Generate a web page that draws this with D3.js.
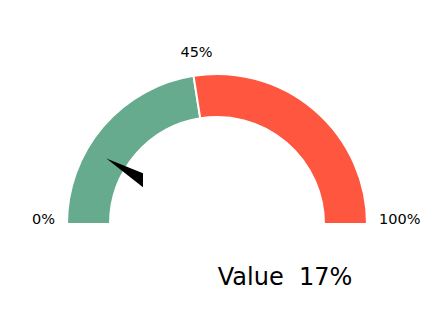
<!DOCTYPE html>
<html lang="en">
<head>
    <meta charset="UTF-8">
    <title>Gauge</title>
    <style>
        body, html {
            margin: 0;
            padding: 0;
            background: #fff;
        }
        #chart {
            width: 439px;
            height: 323px;
        }
        text {
            font-family: "DejaVu Sans", sans-serif;
            fill: #000;
        }
    </style>
    <script src="https://d3js.org/d3.v7.min.js"></script>
</head>
<body>
    <div id="chart"></div>
    <script>
        // gauge bands (percent) and their colours
        const bandStarts = [0, 45];
        const bandEnds = [45, 100];
        const bandColors = ["#67ab8e", "#ff5640"];
        const tickValues = [0, 45, 100];
        const tickLabels = ["0%", "45%", "100%"];
        const needleValue = 17;
        const valueLabel = "Value  17%";

        const width = 439, height = 323;
        const cx = 217, cy = 224;
        const outerR = 150, innerR = 107;

        const svg = d3.select("#chart").append("svg")
            .attr("width", width)
            .attr("height", height);

        // percent -> angle (d3.arc convention: 0 at top, clockwise)
        const angle = d3.scaleLinear().domain([0, 100]).range([-Math.PI / 2, Math.PI / 2]);

        const arc = d3.arc().innerRadius(innerR).outerRadius(outerR);

        const g = svg.append("g").attr("transform", `translate(${cx},${cy})`);

        g.selectAll("path.band")
            .data(bandStarts.map((s, i) => ({ s, e: bandEnds[i], c: bandColors[i] })))
            .join("path")
            .attr("class", "band")
            .attr("d", d => arc({ startAngle: angle(d.s), endAngle: angle(d.e) }))
            .attr("fill", d => d.c)
            .attr("stroke", "#fff")
            .attr("stroke-width", 2);

        // point on the gauge for a value at radius r
        const pt = (v, r) => [r * Math.sin(angle(v)), -r * Math.cos(angle(v))];

        // tick labels
        g.selectAll("text.tick")
            .data(tickValues)
            .join("text")
            .attr("class", "tick")
            .attr("font-size", 14.5)
            .attr("x", (d, i) => {
                const p = pt(d, outerR);
                if (i === 0) return p[0] - 12;
                if (i === tickValues.length - 1) return p[0] + 12;
                return p[0] + 3;
            })
            .attr("y", (d, i) => {
                const p = pt(d, outerR);
                if (i === 0 || i === tickValues.length - 1) return p[1];
                return p[1] - 19;
            })
            .attr("text-anchor", (d, i) => i === 0 ? "end" : (i === tickValues.length - 1 ? "start" : "middle"))
            .text((d, i) => tickLabels[i]);

        // needle
        const tip = pt(needleValue, (innerR + outerR) / 2);
        const base = pt(needleValue, 86);
        g.append("path")
            .attr("d", `M${tip[0]},${tip[1]}L${base[0]},${base[1] - 7}L${base[0]},${base[1] + 7}Z`)
            .attr("fill", "#000");

        // value label
        svg.append("text")
            .attr("x", 285)
            .attr("y", 285)
            .attr("text-anchor", "middle")
            .attr("font-size", 24)
            .style("white-space", "pre")
            .text(valueLabel);
    </script>
</body>
</html>
